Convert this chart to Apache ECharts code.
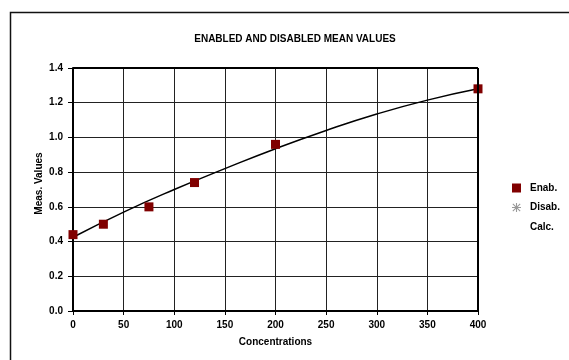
<!DOCTYPE html>
<html><head><meta charset="utf-8">
<script src="https://cdn.jsdelivr.net/npm/echarts@6/dist/echarts.min.js"></script>
<style>html,body{margin:0;padding:0;background:#fff}#c{width:569px;height:360px}</style>
</head><body><div id="c"></div>
<script>
var enabX = [0, 30, 75, 120, 200, 400];
var enabY = [0.44, 0.50, 0.60, 0.74, 0.96, 1.28];
var disabX = [];
var disabY = [];
var calcX = [0, 50, 100, 150, 200, 250, 300, 350, 400];
var calcY = [0.425, 0.57, 0.70, 0.82, 0.935, 1.04, 1.135, 1.215, 1.28];
var yTicks = [0, 0.2, 0.4, 0.6, 0.8, 1.0, 1.2, 1.4];
var xTicks = [0, 50, 100, 150, 200, 250, 300, 350, 400];

function pairs(xs, ys){ return xs.map(function(x,i){return [x, ys[i]];}); }
var F = 'Arial, "Liberation Sans", sans-serif';
var star = 'path://M4.4,0H5.6V10H4.4Z M0,4.4H10V5.6H0Z M1.3,0.5L9.5,8.7L8.7,9.5L0.5,1.3Z M8.7,0.5L9.5,1.3L1.3,9.5L0.5,8.7Z';

var chart = echarts.init(document.getElementById('c'), null, {renderer:'canvas'});
chart.setOption({
  animation:false,
  backgroundColor:'#fff',
  title:{text:'ENABLED AND DISABLED MEAN VALUES', left:290, top:29, textAlign:'center',
    textStyle:{fontFamily:F, fontSize:10, fontWeight:'bold', color:'#000'}},
  graphic:[{type:'rect', shape:{x:10.5, y:12.5, width:600, height:400},
    style:{fill:null, stroke:'#111', lineWidth:1.5}, silent:true}],
  grid:{left:73, right:91, top:68, bottom:49},
  legend:{orient:'vertical', left:507, top:178, itemWidth:9, itemHeight:9, itemGap:9.5,
    textStyle:{fontFamily:F, fontSize:10, fontWeight:'bold', color:'#000', padding:[0,0,0,4]},
    data:[{name:'Enab.', icon:'rect'}, {name:'Disab.', icon:star, itemStyle:{color:'#999'}},
      {name:'Calc.', icon:'rect', itemStyle:{opacity:0}}]},
  xAxis:{type:'value', min:0, max:400, interval:50,
    name:'Concentrations', nameLocation:'middle', nameGap:26,
    nameTextStyle:{fontFamily:F, fontSize:10, fontWeight:'bold', color:'#000'},
    axisLine:{show:true, onZero:false, lineStyle:{color:'#000', width:2}},
    axisTick:{show:true, length:4, lineStyle:{color:'#000'}},
    axisLabel:{fontFamily:F, fontSize:10, fontWeight:'bold', color:'#000', margin:9,
      formatter:function(v){return xTicks.indexOf(v)>=0 ? String(v) : '';}},
    splitLine:{show:true, lineStyle:{color:'#222', width:1}}},
  yAxis:{type:'value', min:0, max:1.4, interval:0.2,
    name:'Meas. Values', nameLocation:'middle', nameGap:29, nameRotate:90, nameMoveOverlap:false,
    nameTextStyle:{fontFamily:F, fontSize:10, fontWeight:'bold', color:'#000', padding:[0,0,0,12]},
    axisLine:{show:true, onZero:false, lineStyle:{color:'#000', width:2}},
    axisTick:{show:true, length:5, lineStyle:{color:'#000'}},
    axisLabel:{fontFamily:F, fontSize:10, fontWeight:'bold', color:'#000', margin:10,
      formatter:function(v){return v.toFixed(1);}},
    splitLine:{show:true, lineStyle:{color:'#222', width:1}}},
  series:[
    {name:'Calc.', type:'line', data:pairs(calcX, calcY), smooth:true, showSymbol:false,
      symbol:'none', lineStyle:{color:'#000', width:1.5}, itemStyle:{color:'#000'}, z:3},
    {name:'Enab.', type:'scatter', data:pairs(enabX, enabY), symbol:'rect', symbolSize:9,
      itemStyle:{color:'#800000', opacity:1}, z:4},
    {name:'Disab.', type:'scatter', data:pairs(disabX, disabY), symbol:star, symbolSize:9,
      itemStyle:{color:'#999', opacity:1}, z:4},
    {name:'frame', type:'line', data:[], markLine:{silent:true, symbol:'none',
      lineStyle:{color:'#000', width:2, type:'solid'}, label:{show:false},
      data:[{xAxis:400}, {yAxis:1.4}]}}
  ]
});
</script></body></html>
